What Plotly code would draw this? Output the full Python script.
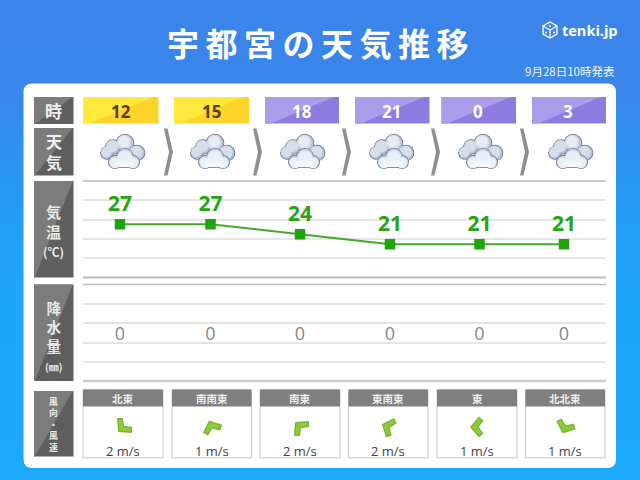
import math
import plotly.graph_objects as go

# ---- data ----
title = "宇都宮の天気推移"
issued = "9月28日10時発表"
brand = "tenki.jp"
hours = ["12", "15", "18", "21", "0", "3"]
temps = [27, 27, 24, 21, 21, 21]
rain = [0, 0, 0, 0, 0, 0]
wind_dir = ["北東", "南南東", "南東", "東南東", "東", "北北東"]
wind_speed = [2, 1, 2, 2, 1, 1]
row_labels = ["時", "天<br>気", "気<br>温<br>(℃)", "降<br>水<br>量<br>(㎜)", "風<br>向<br>・<br>風<br>速"]

# ---- layout constants (pixels of the 640x480 page) ----
W, H = 640, 480
CJK = "Noto Sans CJK JP"
col_x = [120, 210.5, 300, 390, 479.5, 564]
hour_cells = [(83, 158.5), (174, 249), (265, 339), (355, 429.5), (441.5, 516), (532, 606)]
hour_text_x = [121, 211, 301.5, 391, 478, 568]
cloud_x = [122, 212, 302, 391, 480, 570]
chevrons = [164, 253, 342, 431, 520]
wind_cells = [(83, 163), (172, 251.5), (260, 340), (348.5, 428), (437, 517), (525.5, 605)]
bearing = {"北": 0, "北北東": 22.5, "北東": 45, "東北東": 67.5, "東": 90, "東南東": 112.5,
           "南東": 135, "南南東": 157.5, "南": 180}
shapes, notes = [], []


def lerp_hex(a, b, t):
    ca = [int(a[i:i + 2], 16) for i in (1, 3, 5)]
    cb = [int(b[i:i + 2], 16) for i in (1, 3, 5)]
    return "#%02x%02x%02x" % tuple(round(p + (q - p) * t) for p, q in zip(ca, cb))


def rect(x0, y0, x1, y1, fill, line=None, lw=1, layer="below"):
    shapes.append(dict(type="rect", xref="x", yref="y", x0=x0, y0=y0, x1=x1, y1=y1, fillcolor=fill,
                       line=dict(color=line or fill, width=lw if line else 0), layer=layer))


def poly(points, fill, line=None, lw=1):
    path = "M" + " L".join(f"{x:.2f},{y:.2f}" for x, y in points) + " Z"
    shapes.append(dict(type="path", xref="x", yref="y", path=path, fillcolor=fill,
                       line=dict(color=line or fill, width=lw if line else 0), layer="below"))


def circle(cx, cy, r, fill):
    shapes.append(dict(type="circle", xref="x", yref="y", x0=cx - r, x1=cx + r, y0=cy - r, y1=cy + r,
                       fillcolor=fill, line=dict(width=0), layer="below"))


def note(x, y, text, size, color, bold=False, family=CJK, anchor="center"):
    notes.append(dict(xref="x", yref="y", x=x, y=y, text=text, showarrow=False, xanchor=anchor, yanchor="middle",
                      font=dict(size=size, color=color, family=family, weight="bold" if bold else "normal")))


# background gradient
stops = [(0, "#3b84ea"), (90, "#3a86ea"), (180, "#2898f1"), (300, "#1ca6fa"), (480, "#1ca8fb")]
for y in range(0, H, 4):
    for (a, ca), (b, cb) in zip(stops, stops[1:]):
        if a <= y < b:
            rect(0, y, W, y + 4, lerp_hex(ca, cb, (y - a) / (b - a)))
            break

# white panel
r = 9
x0, y0, x1, y1 = 23.5, 83.5, 616, 468
shapes.append(dict(type="path", xref="x", yref="y", fillcolor="#ffffff", line=dict(width=0), layer="below",
                   path=f"M{x0+r},{y0} L{x1-r},{y0} Q{x1},{y0} {x1},{y0+r} L{x1},{y1-r} Q{x1},{y1} {x1-r},{y1} "
                        f"L{x0+r},{y1} Q{x0},{y1} {x0},{y1-r} L{x0},{y0+r} Q{x0},{y0} {x0+r},{y0} Z"))


def two_tone(x0, y0, x1, y1, light, dark, a=0.93, b=0.08):
    rect(x0, y0, x1, y1, dark)
    poly([(x0, y0), (x0 + (x1 - x0) * a, y0), (x0 + (x1 - x0) * b, y1), (x0, y1)], light)


# row label blocks
blocks = [(97, 124), (128, 175.5), (181, 277.5), (284.5, 381), (391, 456.5)]
for (top, bottom), txt in zip(blocks, row_labels):
    two_tone(34, top, 73.5, bottom, "#7c7c7c", "#5e5e5e", 0.98, 0.02)
note(53, 110.5, row_labels[0], 17, "#f0f0f0", True)
note(53.5, 151.5, row_labels[1], 16, "#f0f0f0", True)
notes.append(dict(xref="x", yref="y", x=53.5, y=230, text="気<br>温<br><span style='font-size:12px'>(℃)</span>",
                  showarrow=False, font=dict(size=15, color="#e8e8e8", family=CJK, weight="bold")))
notes.append(dict(xref="x", yref="y", x=53.5, y=335, text="降<br>水<br>量<br><span style='font-size:10px'>(㎜)</span>",
                  showarrow=False, font=dict(size=14.5, color="#e8e8e8", family=CJK, weight="bold")))
note(53.5, 424, row_labels[4], 8.8, "#e8e8e8", True)

# hour cells
for (a, b), hx, hv, i in zip(hour_cells, hour_text_x, hours, range(6)):
    day = i < 2
    two_tone(a, 97, b, 123.5, "#ffe93c" if day else "#ab9cec", "#ffd42a" if day else "#8d7bdf")
    note(hx, 111, hv, 17, "#5b3d10" if day else "#ffffff", True, "Open Sans")

# chevrons between clouds
for c in chevrons:
    poly([(c, 128.5), (c + 3.5, 128.5), (c + 9, 152), (c + 3.5, 175.5), (c, 175.5), (c + 5, 152)], "#8f8f8f")

# cloud icons
back = [(-15, 1.5, 6), (-9, -4.5, 7), (3, -8.5, 8.5), (15, 1.5, 7.5)]
front = [(3, 5.5, 8), (-7, 10.5, 6), (11, 10.5, 6)]
for cx in cloud_x:
    cy = 151.5
    for dx, dy, rr in back:
        circle(cx + dx, cy + dy, rr + 0.8, "#67778e")
    for dx, dy, rr in back:
        circle(cx + dx, cy + dy, rr, "#b4c1d5")
    for dx, dy, rr in back:
        circle(cx + dx - 0.8, cy + dy - 0.8, rr * 0.85, "#d6dee9")
    circle(cx + 2, cy - 10, 5.5, "#e8ecf2")
    for dx, dy, rr in front:
        circle(cx + dx, cy + dy, rr + 1, "#76859b")
    rect(cx - 7, cy + 10, cx + 11, cy + 16.5, "#76859b")
    for dx, dy, rr in front:
        circle(cx + dx, cy + dy, rr, "#d3ddeb")
    for dx, dy, rr in front:
        circle(cx + dx, cy + dy + 1, rr * 0.88, "#eaf0f7")
    rect(cx - 7, cy + 10, cx + 11, cy + 15.6, "#f3f6fb")

# section boundary lines
for yy, lw, c in [(181, 2, "#cccccc"), (277.5, 2, "#bdbdbd"), (284.5, 1.5, "#bdbdbd"), (381, 2.5, "#cccccc")]:
    shapes.append(dict(type="line", xref="x", yref="y", x0=83, x1=606, y0=yy, y1=yy,
                       line=dict(color=c, width=lw), layer="above"))

# wind cards
chev = [(0, -6), (9.5, 2), (6.5, 5.5), (0, 0.8), (-6.5, 5.5), (-9.5, 2)]
for (a, b), d, s in zip(wind_cells, wind_dir, wind_speed):
    rect(a, 389.8, b, 457.8, "#ffffff", "#c6c6c6", 1)
    rect(a, 389.5, b, 406.5, "#808080")
    note((a + b) / 2, 398, d, 10.5, "#eeeeee", True)
    note((a + b) / 2, 451, f"{s} m/s", 13, "#444444", False, "Open Sans")
    th = math.radians(bearing[d] + 180)
    cx, cy = (a + b) / 2, 427
    poly([(cx + x * math.cos(th) - y * math.sin(th), cy + x * math.sin(th) + y * math.cos(th)) for x, y in chev],
         "#8fc93c", "#78b632", 1.4)

# logo and header texts
cxl, cyl, rl = 550, 30, 8
hexa = [(cxl + rl * math.sin(math.radians(a)), cyl - rl * math.cos(math.radians(a))) for a in range(0, 360, 60)]
poly(hexa, "rgba(0,0,0,0)", "#ffffff", 1.4)
for a, b in [(hexa[1], (cxl, cyl)), (hexa[5], (cxl, cyl)), (hexa[3], (cxl, cyl))]:
    shapes.append(dict(type="line", xref="x", yref="y", x0=a[0], y0=a[1], x1=b[0], y1=b[1],
                       line=dict(color="#ffffff", width=1.2), layer="below"))
for dx, dy in [(0, -4), (-4, 2.5), (4, 2.5)]:
    circle(cxl + dx, cyl + dy, 1, "#ffffff")
note(590, 30, brand, 14.5, "#ffffff", True, "Open Sans")
note(616.5, 71, issued, 11.5, "#f2f6fd", False, CJK, "right")
note(321, 41.5, title, 32, "#ffffff", True)

# ---- figure ----
fig = go.Figure()
# invisible anchor for the pixel layer
fig.add_trace(go.Scatter(x=[0, W], y=[0, H], mode="markers", marker=dict(opacity=0), hoverinfo="skip",
                         showlegend=False, xaxis="x", yaxis="y"))
fig.add_trace(go.Scatter(x=col_x, y=temps, mode="lines+markers+text", text=[str(t) for t in temps],
                         textposition="top center", textfont=dict(size=21, color="#2aa312", family="Open Sans", weight="bold"),
                         line=dict(color="#45a82c", width=2), marker=dict(symbol="square", size=10.5, color="#1ea50c"),
                         showlegend=False, xaxis="x2", yaxis="y2"))
fig.add_trace(go.Scatter(x=col_x, y=rain, mode="text", text=[str(v) for v in rain], textposition="middle center",
                         textfont=dict(size=18, color="#888888", family="Open Sans"),
                         showlegend=False, xaxis="x2", yaxis="y3"))

hidden = dict(showticklabels=False, ticks="", zeroline=False, showline=False)
fig.update_layout(
    width=W, height=H, autosize=False, margin=dict(l=0, r=0, t=0, b=0), paper_bgcolor="#ffffff", plot_bgcolor="rgba(0,0,0,0)",
    showlegend=False, shapes=shapes, annotations=notes,
    xaxis=dict(range=[0, W], domain=[0, 1], showgrid=False, **hidden),
    yaxis=dict(range=[H, 0], domain=[0, 1], showgrid=False, **hidden),
    xaxis2=dict(range=[83, 606], domain=[83 / W, 606 / W], anchor="y2", showgrid=False, **hidden),
    yaxis2=dict(range=[11, 40], domain=[1 - 277.5 / H, 1 - 181 / H], anchor="x2", showgrid=True, gridcolor="#e5e5e5",
                gridwidth=1.5, tick0=11, dtick=5.8, **hidden),
    yaxis3=dict(range=[-45.5, 50.5], domain=[1 - 381 / H, 1 - 285 / H], anchor="x2", showgrid=True, gridcolor="#e5e5e5",
                gridwidth=1.5, tick0=-45.5, dtick=19.2, **hidden),
)
spacing = """
document.documentElement.style.margin = '0';
document.documentElement.style.overflow = 'hidden';
document.body.style.margin = '0';
document.body.style.overflow = 'hidden';
var t = Array.from(document.querySelectorAll('.annotation-text'));
t.forEach(function (n) { if (n.textContent === '%s') { n.style.letterSpacing = '6.5px'; } });
""" % title
fig.write_html("out.html", post_script=spacing, config={"displayModeBar": False})
